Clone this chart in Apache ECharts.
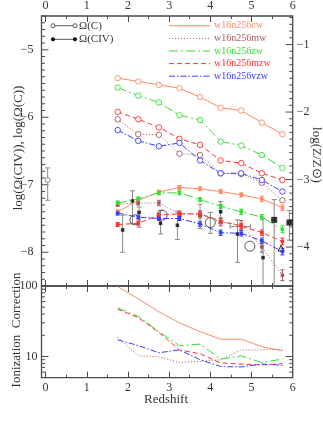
<!DOCTYPE html>
<html>
<head>
<meta charset="utf-8">
<script src="https://cdn.jsdelivr.net/npm/echarts@6/dist/echarts.min.js"></script>
<style>
html, body { margin: 0; padding: 0; background: #fff; }
#chart { width: 323px; height: 424px; }
</style>
</head>
<body>
<div id="chart"></div>
<script>
// redshift of the simulation outputs
var zModel = [1.75, 2.25, 2.75, 3.25, 3.75, 4.25, 4.75, 5.25, 5.75];

// log Omega(C), open circles
var omegaC_cw  = [-5.42, -5.47, -5.52, -5.57, -5.70, -5.86, -5.90, -6.08, -6.25];
var omegaC_mw  = [-6.03, -6.25, -6.26, -6.54, -6.56, -6.83, -6.84, -6.97, -7.23];
var omegaC_zw  = [-5.56, -5.68, -5.78, -5.97, -6.04, -6.36, -6.42, -6.56, -6.75];
var omegaC_mzw = [-5.92, -6.03, -6.15, -6.32, -6.41, -6.64, -6.68, -6.83, -6.93];
var omegaC_vzw = [-6.19, -6.35, -6.43, -6.38, -6.64, -6.83, -6.83, -6.93, -7.10];

// log Omega(CIV), filled points with small error bars
var omegaCIV_cw  = [-7.40, -7.23, -7.11, -7.04, -7.06, -7.10, -7.15, -7.21, -7.34];
var omegaCIV_mw  = [-7.29, -7.27, -7.27, -7.43, -7.44, -7.55, -7.60, -7.92, -8.34];
var omegaCIV_zw  = [-7.27, -7.21, -7.12, -7.12, -7.22, -7.32, -7.40, -7.48, -7.66];
var omegaCIV_mzw = [-7.59, -7.57, -7.45, -7.43, -7.43, -7.54, -7.61, -7.71, -7.84];
var omegaCIV_vzw = [-7.42, -7.48, -7.50, -7.50, -7.58, -7.71, -7.72, -7.83, -7.99];
var errCIV_cw  = [0.03, 0.03, 0.03, 0.03, 0.03, 0.03, 0.03, 0.04, 0.04];
var errCIV_mw  = [0.03, 0.03, 0.04, 0.04, 0.05, 0.06, 0.07, 0.08, 0.08];
var errCIV_zw  = [0.03, 0.03, 0.03, 0.03, 0.03, 0.03, 0.04, 0.04, 0.05];
var errCIV_mzw = [0.03, 0.03, 0.03, 0.03, 0.04, 0.04, 0.04, 0.04, 0.05];
var errCIV_vzw = [0.03, 0.03, 0.03, 0.03, 0.04, 0.04, 0.04, 0.04, 0.05];

// ionization correction (lower panel)
var ionCorr_cw  = [98, 66, 43, 30, 22.5, 17.6, 17.6, 13.8, 12.0];
var ionCorr_mw  = [18.6, 10.2, 9.9, 8.2, 8.5, 9.0, 12.4, 12.4, 12.7];
var ionCorr_zw  = [49, 37, 22.6, 14.2, 15, 9.2, 10.2, 8.2, 9.2];
var ionCorr_mzw = [46.8, 35.6, 21.9, 12.4, 10.9, 8.1, 7.8, 7.6, 7.9];
var ionCorr_vzw = [17.2, 14.3, 11.3, 12.4, 9.0, 7.2, 7.1, 7.8, 7.5];

// observed Omega(CIV)
var obsZ  = [1.87, 2.11, 2.27, 2.79, 3.20, 3.75, 4.25, 4.66, 5.28, 5.55, 5.92];
var obsV  = [-7.67, -7.24, -7.41, -7.57, -7.60, -7.44, -7.40, -7.73, -8.08, -7.52, -7.56];
var obsLo = [-8.00, -7.58, -7.63, -7.73, -7.81, -7.65, -7.57, -8.15, -8.60, -8.60, -7.82];
var obsHi = [-7.45, -7.09, -7.33, -7.38, -7.39, -7.29, -7.25, -7.52, -7.50, -7.22, -7.38];
var obsBigSquare = [false, false, false, false, false, false, false, false, false, true, true];
var circZ = [2.17, 2.83, 4.00, 4.96];
var circV = [-7.52, -7.45, -7.56, -7.91];
var circLo = [null, null, -7.72, null];
var circHi = [null, null, -7.41, null];
var triZ = [5.72];
var triV = [-7.94];
var lowZ = [0.05];
var lowV = [-6.93];
var lowLo = [-7.23];
var lowHi = [-6.75];
var xErrLo = [4.48];
var xErrHi = [4.97];
var xErrV = [-7.62];

// axis ticks
var leftMajor = [-5, -6, -7, -8];
var rightMajor = [-1, -2, -3, -4];
var icMajor = [10, 100];
var icMinor = [6, 7, 8, 9, 20, 30, 40, 50, 60, 70, 80, 90];

var modelNames  = ['w16n256cw', 'w16n256mw', 'w16n256zw', 'w16n256mzw', 'w16n256vzw'];
var modelColors = ['#ff8a66', '#a3585a', '#33e033', '#ff3030', '#3a3aff'];
var modelDash   = [null, [1, 2], [9, 3, 2, 3], [5, 3], [6, 2, 1.5, 2]];

var X_MIN = -0.1, X_MAX = 6;
var LEFT_MIN = -8.5, LEFT_MAX = -4.5;
var RIGHT_MIN = -4.577, RIGHT_MAX = -0.577;
var serif = 'Liberation Serif';
var axisCol = '#4a4a4a';

var omegaC = [omegaC_cw, omegaC_mw, omegaC_zw, omegaC_mzw, omegaC_vzw];
var omegaCIV = [omegaCIV_cw, omegaCIV_mw, omegaCIV_zw, omegaCIV_mzw, omegaCIV_vzw];
var errCIV = [errCIV_cw, errCIV_mw, errCIV_zw, errCIV_mzw, errCIV_vzw];
var ionCorr = [ionCorr_cw, ionCorr_mw, ionCorr_zw, ionCorr_mzw, ionCorr_vzw];

function minus(v) { return (v < 0 ? '\u2212' : '') + Math.abs(v); }
function intOnly(v) {
  return Math.abs(v - Math.round(v)) < 1e-6 ? minus(Math.round(v)) : '';
}
function decadeOnly(v) {
  var l = Math.log(v) / Math.LN10;
  return Math.abs(l - Math.round(l)) < 1e-6 ? String(Math.round(v)) : '';
}
function pairs(xs, ys) { return xs.map(function (x, i) { return [x, ys[i]]; }); }

function errRender(color, cap, lw) {
  return function (params, api) {
    var a = api.coord([api.value(0), api.value(1)]);
    var b = api.coord([api.value(0), api.value(2)]);
    var st = { stroke: color, lineWidth: lw };
    return { type: 'group', children: [
      { type: 'line', shape: { x1: a[0], y1: a[1], x2: b[0], y2: b[1] }, style: st },
      { type: 'line', shape: { x1: a[0] - cap, y1: a[1], x2: a[0] + cap, y2: a[1] }, style: st },
      { type: 'line', shape: { x1: b[0] - cap, y1: b[1], x2: b[0] + cap, y2: b[1] }, style: st }
    ] };
  };
}

function tickRender(params, api) {
  var p = api.coord([api.value(0), api.value(1)]);
  return { type: 'line', shape: { x1: p[0], y1: p[1], x2: p[0] + api.value(2), y2: p[1] },
    style: { stroke: axisCol, lineWidth: 1 } };
}

// tick marks on the y edges
var topLeftTicks = [], topRightTicks = [], icTicks = [];
for (var t = -85; t <= -45; t++) {
  var v = t / 10;
  topLeftTicks.push([X_MIN, v, leftMajor.indexOf(v) >= 0 ? 7 : 3.5]);
}
for (var t2 = -45; t2 <= -6; t2++) {
  var r = t2 / 10;
  topRightTicks.push([X_MAX, r, rightMajor.indexOf(r) >= 0 ? -7 : -3.5]);
}
icMajor.forEach(function (v) { icTicks.push([X_MIN, v, 7], [X_MAX, v, -7]); });
icMinor.forEach(function (v) { icTicks.push([X_MIN, v, 3.5], [X_MAX, v, -3.5]); });

function xAxis(grid, pos, showLabel) {
  return {
    type: 'value', gridIndex: grid, position: pos, min: X_MIN, max: X_MAX, splitNumber: 6,
    axisLine: { show: false },
    axisTick: { show: true, inside: true, length: 6, lineStyle: { color: axisCol } },
    minorTick: { show: true, splitNumber: 2, length: 3, lineStyle: { color: axisCol } },
    axisLabel: { show: showLabel, margin: 4, color: '#333', fontFamily: serif, fontSize: 12,
      formatter: intOnly },
    splitLine: { show: false }
  };
}

var series = [];
series.push({ type: 'custom', xAxisIndex: 0, yAxisIndex: 0, silent: true, renderItem: tickRender,
  data: topLeftTicks, clip: false });
series.push({ type: 'custom', xAxisIndex: 0, yAxisIndex: 1, silent: true, renderItem: tickRender,
  data: topRightTicks, clip: false });
series.push({ type: 'custom', xAxisIndex: 2, yAxisIndex: 2, silent: true, renderItem: tickRender,
  data: icTicks, clip: false });

for (var m = 0; m < 5; m++) {
  var col = modelColors[m];
  var dash = modelDash[m] || 'solid';
  series.push({
    type: 'line', xAxisIndex: 0, yAxisIndex: 0, data: pairs(zModel, omegaC[m]),
    symbol: 'circle', symbolSize: 5.5, showAllSymbol: true,
    lineStyle: { color: col, width: 1, type: dash },
    itemStyle: { color: '#fff', borderColor: col, borderWidth: 0.9 }
  });
  series.push({
    type: 'custom', xAxisIndex: 0, yAxisIndex: 0, silent: true, renderItem: errRender(col, 2, 1),
    data: zModel.map(function (z, i) { return [z, omegaCIV[m][i] - errCIV[m][i], omegaCIV[m][i] + errCIV[m][i]]; })
  });
  series.push({
    type: 'line', xAxisIndex: 0, yAxisIndex: 0, data: pairs(zModel, omegaCIV[m]),
    symbol: 'rect', symbolSize: 3.5, showAllSymbol: true,
    lineStyle: { color: col, width: 1, type: dash }, itemStyle: { color: col }
  });
  series.push({
    type: 'line', xAxisIndex: 2, yAxisIndex: 2, data: pairs(zModel, ionCorr[m]),
    symbol: 'none', lineStyle: { color: col, width: 1, type: dash }
  });
}

// observations
series.push({
  type: 'custom', xAxisIndex: 0, yAxisIndex: 0, silent: true, clip: true,
  renderItem: errRender('#8a8a8a', 2.5, 1),
  data: obsZ.map(function (z, i) { return [z, obsLo[i], obsHi[i]]; })
    .concat(lowZ.map(function (z, i) { return [z, lowLo[i], lowHi[i]]; }))
    .concat(circZ.map(function (z, i) { return [z, circLo[i], circHi[i]]; }).filter(function (d) { return d[1] !== null; }))
});
series.push({
  type: 'custom', xAxisIndex: 0, yAxisIndex: 0, silent: true,
  renderItem: function (params, api) {
    var a = api.coord([api.value(0), api.value(2)]);
    var b = api.coord([api.value(1), api.value(2)]);
    var st = { stroke: '#8a8a8a', lineWidth: 1 };
    return { type: 'group', children: [
      { type: 'line', shape: { x1: a[0], y1: a[1], x2: b[0], y2: b[1] }, style: st },
      { type: 'line', shape: { x1: a[0], y1: a[1] - 2.5, x2: a[0], y2: a[1] + 2.5 }, style: st },
      { type: 'line', shape: { x1: b[0], y1: b[1] - 2.5, x2: b[0], y2: b[1] + 2.5 }, style: st }
    ] };
  },
  data: xErrLo.map(function (lo, i) { return [lo, xErrHi[i], xErrV[i]]; })
});
series.push({
  type: 'scatter', xAxisIndex: 0, yAxisIndex: 0,
  data: pairs(obsZ, obsV).map(function (d, i) { return { value: d, symbolSize: obsBigSquare[i] ? 6 : 3.5 }; }),
  symbol: 'rect', itemStyle: { color: '#000' }
});
series.push({
  type: 'scatter', xAxisIndex: 0, yAxisIndex: 0, data: pairs(circZ, circV),
  symbol: 'circle', symbolSize: 10, itemStyle: { color: 'rgba(0,0,0,0)', borderColor: '#333', borderWidth: 1 }
});
series.push({
  type: 'scatter', xAxisIndex: 0, yAxisIndex: 0, data: pairs(triZ, triV),
  symbol: 'triangle', symbolSize: 6, itemStyle: { color: 'rgba(0,0,0,0)', borderColor: '#000', borderWidth: 1 }
});
series.push({
  type: 'scatter', xAxisIndex: 0, yAxisIndex: 0, data: pairs(lowZ, lowV),
  symbol: 'circle', symbolSize: 5, itemStyle: { color: '#fff', borderColor: '#777', borderWidth: 1 }
});

// legends and titles
var graphics = [];
var legY = [25.7, 38.4, 51, 63.6, 76.2];
modelNames.forEach(function (name, i) {
  graphics.push({ type: 'line', shape: { x1: 169, y1: legY[i], x2: 210, y2: legY[i] },
    style: { stroke: modelColors[i], lineWidth: 1, lineDash: modelDash[i] } });
  graphics.push({ type: 'text', x: 214, y: legY[i],
    style: { text: name, fill: modelColors[i], font: '10px "Liberation Serif"', verticalAlign: 'middle' } });
});
[['\u03A9(C)', 25.7, false], ['\u03A9(CIV)', 39.3, true]].forEach(function (it) {
  var y = it[1];
  graphics.push({ type: 'line', shape: { x1: 53, y1: y, x2: 75, y2: y }, style: { stroke: '#555', lineWidth: 1 } });
  [53, 75].forEach(function (x) {
    graphics.push({ type: 'circle', shape: { cx: x, cy: y, r: it[2] ? 1.6 : 2 },
      style: { fill: it[2] ? '#111' : '#fff', stroke: it[2] ? '#111' : '#555', lineWidth: 1 } });
  });
  graphics.push({ type: 'text', x: 79, y: y,
    style: { text: it[0], fill: '#333', font: '11px "Liberation Serif"', verticalAlign: 'middle' } });
});
graphics.push({ type: 'text', x: 166, y: 400, style: { text: 'Redshift', fill: '#333',
  font: '13px "Liberation Serif"', align: 'center', verticalAlign: 'middle' } });
graphics.push({ type: 'text', x: 19, y: 148, rotation: Math.PI / 2, style: { text: 'log(\u03A9(CIV)), log(\u03A9(C))',
  fill: '#333', font: '13px "Liberation Serif"', align: 'center', verticalAlign: 'middle' } });
graphics.push({ type: 'text', x: 17, y: 330, rotation: Math.PI / 2, style: { text: 'Ionization  Correction',
  fill: '#333', font: '13px "Liberation Serif"', align: 'center', verticalAlign: 'middle' } });
graphics.push({ type: 'text', x: 316, y: 155, rotation: -Math.PI / 2, style: { text: 'log(Z/Z\u2299)',
  fill: '#333', font: '13px "Liberation Serif"', align: 'center', verticalAlign: 'middle' } });

var chart = echarts.init(document.getElementById('chart'));
chart.setOption({
  animation: false,
  backgroundColor: '#fff',
  grid: [
    { left: 41.5, right: 30.3, top: 13.3, height: 272.7, show: true, borderColor: axisCol, borderWidth: 1.3, backgroundColor: 'transparent' },
    { left: 41.5, right: 30.3, top: 286, height: 91.7, show: true, borderColor: axisCol, borderWidth: 1.3, backgroundColor: 'transparent' }
  ],
  xAxis: [
    xAxis(0, 'bottom', false),
    xAxis(0, 'top', true),
    xAxis(1, 'bottom', true),
    xAxis(1, 'top', false)
  ],
  yAxis: [
    { type: 'value', gridIndex: 0, position: 'left', min: LEFT_MIN, max: LEFT_MAX, interval: 0.5,
      axisLine: { show: false }, axisTick: { show: false }, splitLine: { show: false },
      axisLabel: { margin: 8, color: '#333', fontFamily: serif, fontSize: 12, formatter: intOnly } },
    { type: 'value', gridIndex: 0, position: 'right', min: RIGHT_MIN, max: RIGHT_MAX, splitNumber: 4,
      axisLine: { show: false }, axisTick: { show: false }, splitLine: { show: false },
      axisLabel: { margin: 4, color: '#333', fontFamily: serif, fontSize: 12, formatter: intOnly } },
    { type: 'log', logBase: 10, gridIndex: 1, position: 'left', min: 5, max: 100,
      axisLine: { show: false }, axisTick: { show: false }, splitLine: { show: false },
      axisLabel: { margin: 4, color: '#333', fontFamily: serif, fontSize: 12, formatter: decadeOnly } }
  ],
  graphic: graphics,
  series: series
});
</script>
</body>
</html>
